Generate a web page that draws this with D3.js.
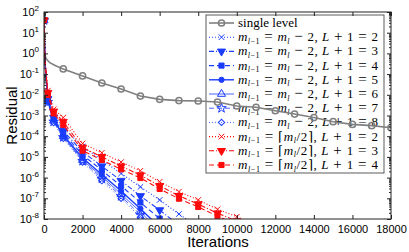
<!DOCTYPE html>
<html lang="en">
<head>
<meta charset="UTF-8">
<title>Residual vs iterations</title>
<script src="https://cdn.jsdelivr.net/npm/d3@7"></script>
<style>
  body { margin: 0; background: #fff; }
  svg { display: block; }
</style>
</head>
<body>
<script>
    // --- data (log10 of residual) ---
    var singleIters = [0, 30, 100, 300, 600, 1000, 2000, 3000, 4000, 5000, 6000, 7000, 8000, 9000,
                       10000, 11000, 12000, 13000, 14000, 15000, 16000, 17000, 18000];
    var singleLog = [1.6, 0.0, -0.25, -0.45, -0.6, -0.75, -1.09, -1.43, -1.72, -2.06, -2.22, -2.28, -2.30, -2.35,
                     -2.54, -2.60, -2.77, -2.93, -3.10, -3.30, -3.43, -3.49, -3.59];

    var mlIters = [0, 50, 200, 500, 1000, 2000, 3000, 4000, 5000, 6000, 7000, 8000, 9000, 10000, 11000];

    var blueL2 = [1.6, -0.4, -2.1, -3.0, -3.6, -4.5, -5.15, -5.8, -6.45, -7.08, -7.76, -8.4];
    var blueL3 = [1.6, -0.4, -2.2, -3.1, -3.75, -4.75, -5.45, -6.15, -6.89, -7.57, -8.3];
    var blueL4 = [1.6, -0.4, -2.2, -3.15, -3.85, -4.9, -5.65, -6.4, -7.2, -7.98, -8.8];
    var blueL5 = [1.6, -0.4, -2.3, -3.2, -3.95, -5.05, -5.85, -6.65, -7.5, -8.4];
    var blueL6 = [1.6, -0.4, -2.3, -3.25, -4.0, -5.15, -5.95, -6.8, -7.65, -8.6];
    var blueL7 = [1.6, -0.4, -2.35, -3.3, -4.05, -5.2, -6.05, -6.9, -7.8, -8.7];
    var blueL8 = [1.6, -0.4, -2.35, -3.35, -4.1, -5.25, -6.15, -7.0, -7.92, -8.8];

    var redL2 = [1.6, -0.3, -1.8, -2.7, -3.1, -4.35, -4.8, -5.25, -5.67, -6.2, -6.68, -7.08, -7.53, -7.89, -8.3];
    var redL3 = [1.6, -0.3, -1.9, -2.8, -3.3, -4.55, -5.0, -5.45, -5.88, -6.4, -6.88, -7.28, -7.72, -8.1];
    var redL4 = [1.6, -0.3, -2.0, -2.9, -3.45, -4.7, -5.15, -5.6, -6.02, -6.55, -7.02, -7.42, -7.86, -8.25];

    var xTicks = [0, 2000, 4000, 6000, 8000, 10000, 12000, 14000, 16000, 18000];
    var yExps = [2, 1, 0, -1, -2, -3, -4, -5, -6, -7, -8];

    var width = 409, height = 252;
    var pl = 44, pr = 391, pt = 12, pb = 219;
    var blue = "#1a3cff", red = "#ff0a0a", grey = "#7f7f7f";

    var svg = d3.select("body").append("svg")
        .attr("width", width).attr("height", height);

    var x = d3.scaleLinear().domain([0, 18000]).range([pl, pr]);
    var y = d3.scaleLog().domain([1e-8, 1e2]).range([pb, pt]);

    svg.append("clipPath").attr("id", "plotclip")
        .append("rect").attr("x", pl).attr("y", pt)
        .attr("width", pr - pl).attr("height", pb - pt);

    // series description: values, colour, dash, marker, filled, width
    var series = [
        {it: singleIters, v: singleLog, c: grey, dash: null, m: "circle", fill: false, w: 1.6, single: true,
         label: "single level"},
        {it: mlIters, v: blueL2, c: blue, dash: "1,2", m: "x", fill: false, w: 1.1, L: 2, kind: "minus"},
        {it: mlIters, v: blueL3, c: blue, dash: "5,2,1,2", m: "tridown", fill: true, w: 1.1, L: 3, kind: "minus"},
        {it: mlIters, v: blueL4, c: blue, dash: "5,3", m: "square", fill: true, w: 1.1, L: 4, kind: "minus"},
        {it: mlIters, v: blueL5, c: blue, dash: null, m: "dot", fill: true, w: 1.4, L: 5, kind: "minus"},
        {it: mlIters, v: blueL6, c: blue, dash: null, m: "triup", fill: false, w: 0.8, L: 6, kind: "minus"},
        {it: mlIters, v: blueL7, c: blue, dash: "5,3", m: "star", fill: false, w: 0.8, L: 7, kind: "minus"},
        {it: mlIters, v: blueL8, c: blue, dash: "1,2", m: "diamond", fill: false, w: 0.8, L: 8, kind: "minus"},
        {it: mlIters, v: redL2, c: red, dash: "1,2", m: "x", fill: false, w: 1.1, L: 2, kind: "half"},
        {it: mlIters, v: redL3, c: red, dash: "5,2,1,2", m: "tridown", fill: true, w: 1.1, L: 3, kind: "half"},
        {it: mlIters, v: redL4, c: red, dash: "5,3", m: "square", fill: true, w: 1.1, L: 4, kind: "half"}
    ];

    function markerPath(m) {
        if (m === "circle") return d3.symbol(d3.symbolCircle, 30)();
        if (m === "x") return d3.symbol(d3.symbolTimes, 22)();
        if (m === "tridown" || m === "triup") return d3.symbol(d3.symbolTriangle, 28)();
        if (m === "square") return d3.symbol(d3.symbolSquare, 26)();
        if (m === "dot") return d3.symbol(d3.symbolCircle, 22)();
        if (m === "star") return d3.symbol(d3.symbolStar, 28)();
        if (m === "diamond") return d3.symbol(d3.symbolSquare, 20)();
    }
    function markerRot(m) {
        if (m === "tridown") return " rotate(180)";
        if (m === "diamond") return " rotate(45)";
        return "";
    }
    function drawMarker(g, s, cx, cy) {
        g.append("path")
            .attr("d", markerPath(s.m))
            .attr("transform", "translate(" + cx + "," + cy + ")" + markerRot(s.m))
            .attr("fill", s.fill ? s.c : "none")
            .attr("stroke", s.c)
            .attr("stroke-width", s.m === "circle" ? 1.5 : 1);
    }

    // --- legend (drawn under the data, the grey line crosses it) ---
    var lx = 206, ly = 15, lw = 178, lh = 158, row = 14.2;
    var leg = svg.append("g");
    leg.append("rect").attr("x", lx).attr("y", ly).attr("width", lw).attr("height", lh)
        .attr("fill", "#fff").attr("stroke", "#333").attr("stroke-width", 0.8);

    series.forEach(function (s, i) {
        var cy = ly + 8 + i * row;
        leg.append("line").attr("x1", lx + 3).attr("x2", lx + 28)
            .attr("y1", cy).attr("y2", cy)
            .attr("stroke", s.c).attr("stroke-width", s.w)
            .attr("stroke-dasharray", s.dash);
        drawMarker(leg, s, lx + 15.5, cy);
        var t = leg.append("text").attr("x", lx + 32).attr("y", cy + 4)
            .attr("font-family", "Liberation Serif, Times New Roman, serif")
            .attr("font-size", 13).attr("fill", "#000");
        if (s.single) { t.text(s.label); return; }
        t.attr("textLength", 140).attr("lengthAdjust", "spacing");
        t.append("tspan").attr("font-style", "italic").text("m");
        t.append("tspan").attr("font-size", 8).attr("dy", 2.5).attr("font-style", "italic").text("l");
        t.append("tspan").attr("font-size", 8).text("−1");
        if (s.kind === "minus") {
            t.append("tspan").attr("dy", -2.5).attr("font-size", 15).text(" = ");
            t.append("tspan").attr("font-style", "italic").text("m");
            t.append("tspan").attr("font-size", 8).attr("dy", 2.5).attr("font-style", "italic").text("l");
            t.append("tspan").attr("dy", -2.5).attr("font-size", 15).text(" − ");
            t.append("tspan").text("2, ");
        } else {
            t.append("tspan").attr("dy", -2.5).attr("font-size", 15).text(" = ");
            t.append("tspan").text("⌈");
            t.append("tspan").attr("font-style", "italic").text("m");
            t.append("tspan").attr("font-size", 8).attr("dy", 2.5).attr("font-style", "italic").text("l");
            t.append("tspan").attr("dy", -2.5).text("/2⌉, ");
        }
        t.append("tspan").attr("font-style", "italic").text("L");
        t.append("tspan").attr("font-size", 15).text(" + ");
        t.append("tspan").text("1");
        t.append("tspan").attr("font-size", 15).text(" = ");
        t.append("tspan").text(s.L);
    });

    // --- data ---
    var plot = svg.append("g").attr("clip-path", "url(#plotclip)");

    series.forEach(function (s) {
        var pts = s.v.map(function (v, i) { return {it: s.it[i], r: Math.pow(10, v)}; });
        var line = d3.line()
            .x(function (d) { return x(d.it); })
            .y(function (d) { return y(d.r); });
        plot.append("path")
            .attr("d", line(pts))
            .attr("fill", "none")
            .attr("stroke", s.c)
            .attr("stroke-width", s.w)
            .attr("stroke-dasharray", s.dash);
        pts.forEach(function (d) {
            var show = s.single ? (d.it > 0 && d.it % 1000 === 0) : d.it !== 50;
            if (show) drawMarker(plot, s, x(d.it), y(d.r));
        });
    });

    // --- axes (box with inward ticks) ---
    var axisColor = "#222";
    svg.append("rect").attr("x", pl).attr("y", pt)
        .attr("width", pr - pl).attr("height", pb - pt)
        .attr("fill", "none").attr("stroke", axisColor).attr("stroke-width", 1);

    var xb = svg.append("g").attr("transform", "translate(0," + pb + ")")
        .call(d3.axisBottom(x).tickValues(xTicks).tickSize(-4).tickPadding(6).tickFormat(d3.format("d")));
    var xt = svg.append("g").attr("transform", "translate(0," + pt + ")")
        .call(d3.axisTop(x).tickValues(xTicks).tickSize(-4).tickFormat(""));
    [xb, xt].forEach(function (g) {
        g.select(".domain").remove();
        g.selectAll("line").attr("stroke", axisColor);
    });
    xb.selectAll("text").attr("font-family", "Liberation Sans, Arial, sans-serif")
        .attr("font-size", 11).attr("fill", "#000");

    var majors = yExps.map(function (e) { return Math.pow(10, e); });
    var minors = [];
    yExps.forEach(function (e) {
        if (e < 2) for (var k = 2; k < 10; k++) minors.push(k * Math.pow(10, e));
    });
    var yl = svg.append("g").attr("transform", "translate(" + pl + ",0)")
        .call(d3.axisLeft(y).tickValues(majors).tickSize(-4).tickFormat(""));
    var yr = svg.append("g").attr("transform", "translate(" + pr + ",0)")
        .call(d3.axisRight(y).tickValues(majors).tickSize(-4).tickFormat(""));
    var ylm = svg.append("g").attr("transform", "translate(" + pl + ",0)")
        .call(d3.axisLeft(y).tickValues(minors).tickSize(-2).tickFormat(""));
    var yrm = svg.append("g").attr("transform", "translate(" + pr + ",0)")
        .call(d3.axisRight(y).tickValues(minors).tickSize(-2).tickFormat(""));
    [yl, yr, ylm, yrm].forEach(function (g) {
        g.select(".domain").remove();
        g.selectAll("line").attr("stroke", axisColor);
    });

    var ylab = svg.append("g").attr("font-family", "Liberation Sans, Arial, sans-serif");
    yExps.forEach(function (e) {
        var t = ylab.append("text")
            .attr("x", pl - 5).attr("y", y(Math.pow(10, e)) + 4)
            .attr("text-anchor", "end").attr("font-size", 11);
        t.append("tspan").text("10");
        t.append("tspan").attr("font-size", 8).attr("dy", -5).text(e);
    });

    svg.append("text")
        .attr("transform", "translate(17," + ((pt + pb) / 2) + ") rotate(-90)")
        .attr("text-anchor", "middle")
        .attr("font-family", "Liberation Sans, Arial, sans-serif")
        .attr("font-size", 15).text("Residual");
    svg.append("text")
        .attr("x", 218).attr("y", 247)
        .attr("text-anchor", "middle")
        .attr("font-family", "Liberation Sans, Arial, sans-serif")
        .attr("font-size", 15).text("Iterations");
</script>
</body>
</html>
